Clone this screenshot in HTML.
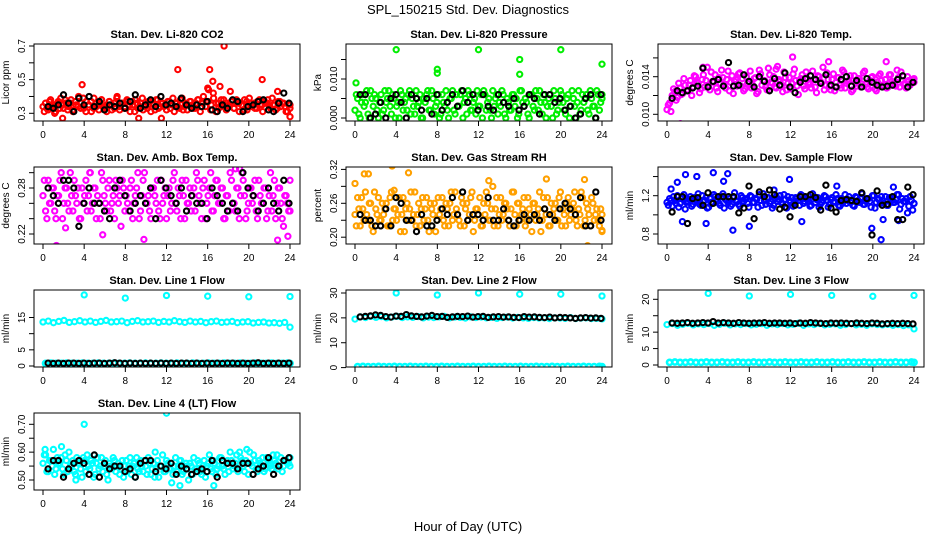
<!DOCTYPE html>
<html><head><meta charset="utf-8"><style>
html,body{margin:0;padding:0;background:#fff;}
svg{display:block;font-family:"Liberation Sans",Helvetica,Arial,sans-serif;}
</style></head><body>
<svg id="chart" width="936" height="540" viewBox="0 0 936 540">
<text x="468" y="14" text-anchor="middle" font-size="13">SPL_150215  Std. Dev. Diagnostics</text>
<text x="468" y="531" text-anchor="middle" font-size="13">Hour of Day (UTC)</text>
</svg>
<script>
// ---- data arrays (hourly position from array index across 0-24 unless hours given) ----
const hourTicks = [0,4,8,12,16,20,24];

const co2Main = [0.34,0.36,0.32,0.38,0.35,0.31,0.37,0.39,0.33,0.36,0.34,0.38,0.32,0.35,0.40,0.36,0.33,0.37,0.35,0.31,0.39,0.34,0.36,0.38,0.33,0.35,0.37,0.32,0.36,0.39,0.34,0.36,0.33,0.38,0.35,0.37,0.31,0.36,0.34,0.39,0.35,0.33,0.37,0.36,0.32,0.38,0.34,0.36,0.35,0.37,0.33,0.39,0.36,0.34,0.38,0.32,0.36,0.35,0.37,0.33,0.36,0.38,0.34,0.40,0.37,0.44,0.35,0.39,0.36,0.33,0.38,0.35,0.36,0.34,0.37,0.33,0.38,0.36,0.35,0.32,0.37,0.39,0.34,0.36,0.33,0.38,0.35,0.37,0.36,0.34,0.39,0.35,0.33,0.37,0.36,0.34,0.31,0.35];
const co2Main2 = [0.31,0.33,0.37,0.34,0.30,0.36,0.33,0.35,0.38,0.32,0.36,0.31,0.37,0.34,0.33,0.39,0.31,0.35,0.37,0.33,0.36,0.32,0.38,0.34,0.31,0.37,0.35,0.33,0.40,0.32,0.36,0.34,0.37,0.31,0.35,0.38,0.33,0.36,0.32,0.34,0.37,0.31,0.35,0.38,0.33,0.36,0.34,0.32,0.37,0.35,0.31,0.36,0.33,0.39,0.34,0.32,0.37,0.35,0.33,0.38,0.31,0.36,0.34,0.37,0.32,0.42,0.31,0.36,0.34,0.38,0.32,0.35,0.37,0.33,0.36,0.31,0.35,0.38,0.32,0.36,0.34,0.33,0.37,0.35,0.31,0.36,0.38,0.33,0.35,0.32,0.37,0.34,0.36,0.31,0.35,0.33];
const co2OutHours = [3.8,13.1,16.2,17.6,21.3,16.5,17.2,16.0,1.9,9.3,11.5,24.0,22.8,18.2];
const co2OutVals = [0.47,0.56,0.56,0.70,0.50,0.49,0.46,0.45,0.27,0.27,0.27,0.28,0.43,0.43];
const co2Ref = [0.34,0.33,0.35,0.41,0.36,0.31,0.39,0.35,0.40,0.34,0.37,0.32,0.35,0.34,0.36,0.33,0.37,0.41,0.33,0.35,0.38,0.34,0.40,0.35,0.36,0.34,0.39,0.35,0.33,0.35,0.34,0.37,0.32,0.31,0.35,0.33,0.38,0.37,0.31,0.34,0.35,0.37,0.38,0.32,0.31,0.36,0.42,0.36];

const presMain = [0.002,0.005,0.000,0.006,0.004,0.001,0.007,0.003,0.005,0.000,0.006,0.002,0.004,0.007,0.001,0.005,0.003,0.000,0.006,0.004,0.002,0.007,0.005,0.001,0.003,0.006,0.000,0.004,0.007,0.002,0.005,0.003,0.006,0.001,0.004,0.007,0.000,0.005,0.002,0.006,0.003,0.007,0.004,0.001,0.006,0.002,0.005,0.007,0.003,0.000,0.006,0.004,0.002,0.007,0.005,0.001,0.003,0.006,0.000,0.004,0.002,0.006,0.005,0.001,0.007,0.003,0.004,0.000,0.006,0.002,0.005,0.007,0.001,0.004,0.003,0.006,0.000,0.005,0.002,0.007,0.004,0.001,0.006,0.003,0.005,0.000,0.007,0.002,0.004,0.006,0.001,0.005,0.003,0.007,0.002,0.006];
const presMain2 = [0.006,0.001,0.004,0.003,0.007,0.000,0.005,0.006,0.002,0.004,0.001,0.007,0.005,0.003,0.006,0.000,0.004,0.007,0.002,0.005,0.006,0.001,0.003,0.007,0.004,0.000,0.005,0.006,0.002,0.007,0.001,0.004,0.000,0.006,0.003,0.002,0.005,0.007,0.001,0.003,0.006,0.000,0.005,0.007,0.002,0.004,0.001,0.003,0.006,0.007,0.002,0.005,0.000,0.003,0.006,0.004,0.007,0.001,0.005,0.002,0.006,0.003,0.000,0.007,0.004,0.005,0.001,0.006,0.003,0.007,0.002,0.004,0.006,0.000,0.005,0.003,0.007,0.001,0.004,0.006,0.002,0.005,0.000,0.007,0.003,0.004,0.001,0.006,0.005,0.002,0.007,0.003,0.000,0.006,0.004,0.005];
const presOutHours = [4.0,12.0,20.0,16.0,8.0,8.0,16.0,24.0,0.1];
const presOutVals = [0.0175,0.0175,0.0175,0.0150,0.0125,0.0115,0.0112,0.0138,0.0090];
const presRef = [0.006,0.006,0.000,0.001,0.004,0.000,0.005,0.006,0.004,0.000,0.006,0.005,0.002,0.005,0.001,0.006,0.002,0.004,0.006,0.003,0.007,0.004,0.006,0.002,0.006,0.003,0.002,0.006,0.004,0.003,0.005,0.002,0.003,0.006,0.005,0.001,0.006,0.006,0.004,0.005,0.002,0.003,0.000,0.001,0.005,0.006,0.000,0.006];

const tempMain = [0.0105,0.0112,0.0120,0.0124,0.0118,0.0128,0.0122,0.0131,0.0126,0.0136,0.0129,0.0140,0.0133,0.0127,0.0142,0.0136,0.0130,0.0145,0.0134,0.0128,0.0139,0.0147,0.0132,0.0137,0.0125,0.0141,0.0135,0.0130,0.0144,0.0138,0.0127,0.0133,0.0146,0.0131,0.0139,0.0124,0.0143,0.0136,0.0129,0.0149,0.0134,0.0140,0.0128,0.0137,0.0131,0.0145,0.0126,0.0139,0.0133,0.0148,0.0130,0.0136,0.0142,0.0127,0.0138,0.0132,0.0146,0.0129,0.0141,0.0135,0.0150,0.0131,0.0137,0.0126,0.0143,0.0134,0.0139,0.0128,0.0145,0.0133,0.0136,0.0124,0.0141,0.0130,0.0138,0.0132,0.0146,0.0129,0.0136,0.0140,0.0127,0.0134,0.0143,0.0131,0.0137,0.0129,0.0142,0.0133,0.0130,0.0139,0.0145,0.0132,0.0128,0.0136,0.0134,0.0138];
const tempMain2 = [0.0110,0.0103,0.0127,0.0115,0.0133,0.0121,0.0138,0.0125,0.0131,0.0120,0.0141,0.0134,0.0123,0.0137,0.0129,0.0150,0.0126,0.0135,0.0142,0.0124,0.0133,0.0139,0.0128,0.0146,0.0134,0.0122,0.0137,0.0143,0.0130,0.0125,0.0140,0.0135,0.0128,0.0138,0.0122,0.0147,0.0131,0.0136,0.0126,0.0142,0.0133,0.0129,0.0151,0.0135,0.0124,0.0139,0.0133,0.0127,0.0143,0.0136,0.0121,0.0138,0.0130,0.0145,0.0134,0.0128,0.0137,0.0123,0.0140,0.0133,0.0126,0.0144,0.0130,0.0137,0.0125,0.0139,0.0131,0.0147,0.0128,0.0135,0.0141,0.0126,0.0133,0.0138,0.0129,0.0144,0.0132,0.0127,0.0139,0.0134,0.0125,0.0141,0.0136,0.0130,0.0128,0.0142,0.0135,0.0131,0.0147,0.0129,0.0136,0.0133,0.0140,0.0131,0.0137,0.0134];
const tempOutHours = [1.3,12.2,15.7,21.3,3.5,10.6];
const tempOutVals = [0.0090,0.0161,0.0156,0.0156,0.0150,0.0148];
const tempRef = [0.0117,0.0125,0.0123,0.0125,0.0128,0.0130,0.0149,0.0129,0.0135,0.0137,0.0130,0.0155,0.0130,0.0131,0.0142,0.0135,0.0129,0.0140,0.0135,0.0125,0.0138,0.0131,0.0144,0.0129,0.0123,0.0134,0.0138,0.0141,0.0137,0.0133,0.0142,0.0131,0.0129,0.0137,0.0140,0.0130,0.0136,0.0129,0.0138,0.0134,0.0131,0.0129,0.0130,0.0131,0.0137,0.0141,0.0129,0.0134];

const ambMain = [0.27,0.25,0.29,0.26,0.28,0.24,0.27,0.30,0.26,0.28,0.25,0.27,0.29,0.26,0.24,0.28,0.27,0.25,0.30,0.26,0.28,0.27,0.24,0.29,0.26,0.28,0.25,0.27,0.29,0.26,0.23,0.28,0.27,0.25,0.29,0.26,0.28,0.24,0.27,0.30,0.26,0.25,0.28,0.27,0.29,0.24,0.26,0.28,0.27,0.25,0.29,0.26,0.28,0.24,0.27,0.29,0.26,0.25,0.28,0.30,0.27,0.24,0.29,0.26,0.28,0.25,0.27,0.29,0.26,0.28,0.24,0.27,0.30,0.26,0.25,0.28,0.27,0.29,0.24,0.26,0.28,0.27,0.25,0.29,0.26,0.28,0.24,0.27,0.25,0.29,0.26,0.28,0.24,0.27,0.26,0.25];
const ambMain2 = [0.29,0.24,0.26,0.28,0.25,0.27,0.29,0.24,0.28,0.26,0.30,0.25,0.27,0.28,0.24,0.26,0.29,0.27,0.25,0.28,0.24,0.26,0.30,0.27,0.25,0.29,0.26,0.24,0.28,0.27,0.29,0.25,0.26,0.28,0.24,0.27,0.30,0.25,0.29,0.26,0.27,0.24,0.28,0.26,0.25,0.29,0.27,0.24,0.28,0.26,0.30,0.25,0.27,0.29,0.24,0.26,0.28,0.27,0.25,0.29,0.26,0.28,0.24,0.27,0.30,0.25,0.29,0.26,0.28,0.24,0.27,0.25,0.29,0.26,0.28,0.24,0.30,0.27,0.25,0.28,0.26,0.29,0.24,0.27,0.26,0.28,0.25,0.30,0.27,0.24,0.28,0.26,0.23,0.27,0.25,0.29];
const ambOutHours = [1.3,9.8,22.8,23.8,5.8,2.2,18.7,19.1,4.6];
const ambOutVals = [0.205,0.213,0.212,0.217,0.219,0.228,0.305,0.305,0.300];
const ambRef = [0.28,0.27,0.26,0.29,0.29,0.28,0.23,0.26,0.28,0.26,0.26,0.25,0.24,0.28,0.29,0.27,0.25,0.26,0.27,0.26,0.28,0.24,0.29,0.28,0.27,0.26,0.28,0.25,0.27,0.26,0.26,0.24,0.28,0.27,0.26,0.25,0.26,0.25,0.30,0.28,0.27,0.25,0.26,0.28,0.26,0.25,0.29,0.26];

const rhMain = [0.24,0.27,0.22,0.25,0.28,0.23,0.26,0.21,0.25,0.27,0.23,0.24,0.26,0.22,0.28,0.25,0.23,0.27,0.24,0.21,0.26,0.25,0.23,0.28,0.24,0.22,0.27,0.25,0.23,0.26,0.24,0.21,0.27,0.25,0.23,0.26,0.22,0.28,0.24,0.25,0.23,0.27,0.22,0.26,0.24,0.28,0.23,0.25,0.27,0.22,0.24,0.26,0.23,0.29,0.25,0.22,0.27,0.24,0.26,0.23,0.25,0.28,0.22,0.26,0.24,0.27,0.23,0.25,0.21,0.26,0.24,0.28,0.23,0.25,0.27,0.22,0.24,0.26,0.23,0.28,0.25,0.22,0.27,0.24,0.26,0.23,0.25,0.28,0.22,0.26,0.24,0.27,0.23,0.25,0.22,0.24];
const rhMain2 = [0.22,0.25,0.27,0.23,0.24,0.26,0.22,0.28,0.24,0.23,0.26,0.25,0.22,0.27,0.23,0.25,0.24,0.21,0.27,0.25,0.23,0.28,0.24,0.22,0.26,0.25,0.23,0.27,0.21,0.25,0.26,0.23,0.24,0.27,0.22,0.25,0.26,0.23,0.28,0.24,0.22,0.26,0.25,0.23,0.27,0.21,0.25,0.24,0.22,0.26,0.28,0.23,0.25,0.22,0.27,0.24,0.23,0.26,0.25,0.22,0.28,0.24,0.26,0.23,0.25,0.22,0.27,0.24,0.26,0.23,0.25,0.21,0.27,0.24,0.22,0.26,0.25,0.23,0.27,0.22,0.24,0.26,0.23,0.25,0.28,0.22,0.24,0.27,0.23,0.25,0.22,0.26,0.24,0.23,0.25,0.21];
const rhOutHours = [0.0,0.9,1.3,3.6,5.2,22.6,3.8,13.0,18.6,22.3,24.0];
const rhOutVals = [0.295,0.312,0.312,0.326,0.314,0.185,0.283,0.300,0.303,0.302,0.212];
const rhRef = [0.24,0.23,0.23,0.22,0.22,0.25,0.22,0.27,0.26,0.23,0.23,0.21,0.24,0.22,0.22,0.23,0.25,0.24,0.27,0.24,0.28,0.23,0.24,0.24,0.23,0.27,0.23,0.23,0.25,0.23,0.22,0.23,0.24,0.23,0.24,0.23,0.25,0.24,0.23,0.25,0.26,0.25,0.24,0.27,0.22,0.22,0.28,0.23];

const flowMain = [1.13,1.17,1.09,1.15,1.20,1.12,1.18,1.06,1.14,1.19,1.11,1.16,1.22,1.10,1.15,1.18,1.08,1.13,1.21,1.16,1.12,1.19,1.07,1.15,1.17,1.11,1.23,1.14,1.09,1.18,1.16,1.12,1.20,1.13,1.17,1.08,1.15,1.22,1.11,1.18,1.14,1.10,1.19,1.16,1.13,1.21,1.07,1.15,1.18,1.12,1.17,1.10,1.20,1.14,1.16,1.09,1.22,1.13,1.18,1.11,1.15,1.19,1.08,1.16,1.13,1.21,1.10,1.17,1.14,1.12,1.19,1.15,1.09,1.18,1.13,1.22,1.11,1.16,1.14,1.20,1.07,1.17,1.12,1.15,1.19,1.10,1.18,1.13,1.16,1.21,1.11,1.14,1.17,1.09,1.15,1.12];
const flowMain2 = [1.10,1.15,1.19,1.12,1.08,1.17,1.21,1.13,1.16,1.09,1.18,1.14,1.11,1.20,1.15,1.07,1.17,1.12,1.19,1.14,1.10,1.22,1.16,1.13,1.09,1.18,1.15,1.11,1.20,1.14,1.17,1.08,1.19,1.13,1.16,1.21,1.10,1.15,1.18,1.12,1.07,1.17,1.14,1.20,1.11,1.16,1.19,1.13,1.09,1.18,1.15,1.21,1.12,1.17,1.14,1.10,1.19,1.16,1.08,1.13,1.20,1.15,1.11,1.18,1.14,1.17,1.09,1.12,1.21,1.16,1.13,1.10,1.19,1.15,1.18,1.11,1.14,1.17,1.08,1.20,1.13,1.16,1.19,1.12,1.10,1.18,1.15,1.13,1.21,1.06,1.17,1.14,1.02,1.19,1.05,1.12];
const flowOutHours = [0.4,1.0,1.8,2.9,4.5,5.5,5.9,6.4,11.9,1.5,3.8,8.0,10.4,13.1,16.5,19.9,20.8,21.0,22.0,22.5];
const flowOutVals = [1.27,1.34,1.42,1.40,1.44,1.35,1.43,0.84,1.37,0.93,0.91,0.88,1.26,0.93,1.30,0.86,0.74,0.95,1.29,0.94];
const flowRef = [1.03,1.19,1.19,0.91,1.17,1.18,1.10,1.23,1.12,1.19,1.19,1.19,1.19,1.02,1.07,1.30,0.96,1.24,1.19,1.26,1.21,1.06,1.08,0.98,1.10,1.19,1.19,1.21,1.18,1.05,1.31,1.07,1.03,1.15,1.16,1.15,1.14,1.23,1.17,0.79,1.25,1.10,1.11,1.19,0.95,0.95,1.29,1.21];

const l1Main = [13.6,13.9,13.4,13.8,14.1,13.5,13.7,14.0,13.6,13.9,13.5,13.8,14.1,13.6,13.7,13.9,13.4,13.8,14.0,13.6,13.7,13.9,13.5,13.8,13.6,14.0,13.7,13.5,13.9,13.6,13.8,13.4,13.7,13.9,13.5,13.6,13.8,13.4,13.6,13.7,13.3,13.5,13.6,13.3,13.4,13.2,13.5,12.0];
const l1Low = [0.8,0.9,0.8,0.8,0.9,0.8,0.8,0.9,0.8,0.8,0.9,0.8,0.8,0.9,0.8,0.8,0.9,0.8,0.8,0.9,0.8,0.8,0.9,0.8,0.8,0.9,0.8,0.8,0.9,0.8,0.8,0.9,0.8,0.8,0.9,0.8,0.8,0.9,0.8,0.8,0.9,0.8,0.8,0.9,0.8,0.8,0.9,0.8];
const l1OutHours = [4.0,8.0,12.0,16.0,20.0,24.0];
const l1OutVals = [22.0,21.0,21.8,21.6,21.4,21.5];
const l1Ref = [0.9,0.8,0.9,0.8,0.9,0.9,0.8,0.9,0.8,0.9,0.9,0.8,0.9,1.0,0.9,0.8,0.9,0.8,0.9,0.8,0.9,0.8,0.9,0.8,0.9,0.8,0.9,0.9,0.8,0.9,0.8,0.9,0.8,0.9,0.8,0.9,0.9,0.8,0.9,0.8,0.9,1.0,0.8,0.9,0.8,0.9,0.8,0.9];

const l2Main = [19.5,20.4,20.1,20.6,20.2,20.5,20.0,20.3,20.6,20.1,20.4,20.2,20.5,20.0,20.3,20.1,20.4,20.6,20.0,20.3,20.2,19.9,20.4,20.1,20.3,20.0,20.2,19.8,20.1,20.3,19.9,20.2,20.0,19.8,20.1,19.9,20.0,19.7,20.0,19.9,19.8,20.1,19.7,19.9,20.0,19.7,19.8,19.6];
const l2Low = [0.4,0.5,0.4,0.4,0.5,0.4,0.4,0.5,0.4,0.4,0.5,0.4,0.4,0.5,0.4,0.4,0.5,0.4,0.4,0.5,0.4,0.4,0.5,0.4,0.4,0.5,0.4,0.4,0.5,0.4,0.4,0.5,0.4,0.4,0.5,0.4,0.4,0.5,0.4,0.4,0.5,0.4,0.4,0.5,0.4,0.4,0.5,0.4];
const l2OutHours = [4.0,8.0,12.0,16.0,20.0,24.0];
const l2OutVals = [30.0,29.2,30.0,29.5,29.5,28.8];
const l2Ref = [20.4,20.6,20.8,21.2,21.0,20.5,20.3,20.7,20.6,21.3,20.8,20.6,20.4,20.7,21.0,20.5,20.6,20.2,20.4,20.6,20.5,20.7,20.3,20.5,20.6,20.2,20.4,20.5,20.3,20.4,20.2,20.1,20.5,20.3,20.4,20.2,20.1,20.3,20.0,20.2,20.1,20.0,19.8,20.0,20.1,19.9,20.0,19.8];

const l3Main = [12.3,12.6,12.1,12.4,12.7,12.2,12.5,12.3,12.6,12.1,12.4,12.7,12.2,12.5,12.3,12.6,12.2,12.4,12.6,12.1,12.5,12.3,12.6,12.2,12.4,12.7,12.1,12.5,12.3,12.6,12.2,12.4,12.5,12.1,12.3,12.6,12.2,12.4,12.1,12.5,12.3,12.2,12.4,12.1,12.3,12.0,12.2,11.0];
const l3Low = [0.8,0.9,0.8,0.8,0.9,0.8,0.8,0.9,0.8,0.8,0.9,0.8,0.8,0.9,0.8,0.8,0.9,0.8,0.8,0.9,0.8,0.8,0.9,0.8,0.8,0.9,0.8,0.8,0.9,0.8,0.8,0.9,0.8,0.8,0.9,0.8,0.8,0.9,0.8,0.8,0.9,0.8,0.8,0.9,0.8,0.8,0.9,0.8];
const l3OutHours = [4.0,8.0,12.0,16.0,20.0,24.0];
const l3OutVals = [21.8,21.0,21.5,21.2,20.9,21.2];
const l3Ref = [12.8,12.7,12.8,12.9,12.7,12.8,12.9,12.8,13.2,12.8,12.9,12.8,12.7,12.9,12.8,12.7,12.8,12.8,12.9,12.7,12.8,12.8,12.7,12.8,12.6,12.8,12.7,12.9,12.8,12.7,12.6,12.8,12.7,12.8,12.7,12.6,12.8,12.7,12.6,12.8,12.7,12.5,12.6,12.7,12.6,12.7,12.6,12.5];

const l4Main = [0.56,0.59,0.53,0.57,0.61,0.54,0.56,0.58,0.52,0.57,0.60,0.55,0.53,0.58,0.56,0.51,0.57,0.59,0.54,0.56,0.52,0.58,0.55,0.53,0.57,0.50,0.55,0.58,0.53,0.56,0.54,0.51,0.57,0.55,0.52,0.56,0.58,0.53,0.55,0.57,0.52,0.56,0.54,0.51,0.57,0.55,0.59,0.53,0.56,0.54,0.52,0.58,0.55,0.57,0.53,0.56,0.50,0.55,0.58,0.54,0.56,0.52,0.57,0.55,0.59,0.53,0.56,0.54,0.58,0.55,0.52,0.57,0.60,0.54,0.56,0.53,0.58,0.55,0.57,0.52,0.56,0.59,0.54,0.57,0.55,0.53,0.58,0.56,0.54,0.57,0.59,0.55,0.53,0.57,0.56,0.58];
const l4Main2 = [0.59,0.53,0.57,0.55,0.52,0.58,0.56,0.54,0.59,0.53,0.55,0.57,0.52,0.56,0.54,0.58,0.53,0.55,0.57,0.51,0.56,0.54,0.58,0.55,0.52,0.56,0.54,0.57,0.55,0.52,0.57,0.55,0.53,0.58,0.55,0.51,0.54,0.57,0.53,0.55,0.58,0.52,0.56,0.54,0.51,0.55,0.53,0.57,0.54,0.49,0.55,0.53,0.57,0.52,0.55,0.54,0.56,0.52,0.54,0.57,0.53,0.55,0.51,0.56,0.54,0.57,0.52,0.55,0.58,0.54,0.56,0.53,0.57,0.55,0.59,0.54,0.57,0.53,0.56,0.60,0.55,0.57,0.53,0.56,0.58,0.54,0.57,0.55,0.59,0.56,0.54,0.58,0.55,0.57,0.56,0.55];
const l4OutHours = [4.0,12.0,1.8,10.9,19.1,19.8,0.2,3.2,16.6,13.3];
const l4OutVals = [0.70,0.74,0.62,0.60,0.60,0.61,0.61,0.50,0.48,0.48];
const l4Ref = [0.54,0.57,0.57,0.51,0.54,0.56,0.57,0.56,0.52,0.59,0.51,0.56,0.54,0.55,0.55,0.53,0.54,0.51,0.56,0.57,0.57,0.53,0.55,0.54,0.56,0.52,0.55,0.54,0.52,0.53,0.54,0.53,0.57,0.51,0.57,0.56,0.56,0.54,0.56,0.56,0.52,0.54,0.55,0.58,0.52,0.55,0.57,0.58];

// ---- rendering ----
const NS = "http://www.w3.org/2000/svg";
const svg = document.getElementById("chart");
function el(tag, attrs, parent){ const e=document.createElementNS(NS,tag); for(const k in attrs) e.setAttribute(k,attrs[k]); (parent||svg).appendChild(e); return e; }

const panels = [
 {id:"co2",c:0,r:0,title:"Stan. Dev. Li-820 CO2",ylab:"Licor ppm",ticks:[0.3,0.4,0.5,0.6,0.7],labels:["0.3","","0.5","","0.7"],cal:[0.3,113.3,0.7,46],
  col:"#ff0000",main:[co2Main,co2Main2],oh:co2OutHours,ov:co2OutVals,ref:co2Ref},
 {id:"pressure",c:1,r:0,title:"Stan. Dev. Li-820 Pressure",ylab:"kPa",ticks:[0,0.005,0.010,0.015],labels:["0.000","","0.010",""],cal:[0,118,0.010,79],
  col:"#00ee00",main:[presMain,presMain2],oh:presOutHours,ov:presOutVals,ref:presRef},
 {id:"temp",c:2,r:0,title:"Stan. Dev. Li-820 Temp.",ylab:"degrees C",ticks:[0.010,0.012,0.014,0.016],labels:["0.010","","0.014",""],cal:[0.010,114.3,0.014,76.7],
  col:"#ff00ff",main:[tempMain,tempMain2],oh:tempOutHours,ov:tempOutVals,ref:tempRef},
 {id:"ambient",c:0,r:1,title:"Stan. Dev. Amb. Box Temp.",ylab:"degrees C",ticks:[0.22,0.24,0.26,0.28,0.30],labels:["0.22","","","0.28",""],cal:[0.22,234,0.28,188],
  col:"#ff00ff",main:[ambMain,ambMain2],oh:ambOutHours,ov:ambOutVals,ref:ambRef},
 {id:"rh",c:1,r:1,title:"Stan. Dev. Gas Stream RH",ylab:"percent",ticks:[0.20,0.23,0.26,0.29,0.32],labels:["0.20","","0.26","","0.32"],cal:[0.20,237.2,0.32,169.4],
  col:"#ffa000",main:[rhMain,rhMain2],oh:rhOutHours,ov:rhOutVals,ref:rhRef},
 {id:"sample-flow",c:2,r:1,title:"Stan. Dev. Sample Flow",ylab:"ml/min",ticks:[0.8,1.0,1.2,1.4],labels:["0.8","","1.2",""],cal:[0.8,234,1.2,195.7],
  col:"#0000ff",main:[flowMain,flowMain2],oh:flowOutHours,ov:flowOutVals,ref:flowRef},
 {id:"line1",c:0,r:2,title:"Stan. Dev. Line 1 Flow",ylab:"ml/min",ticks:[0,5,10,15],labels:["0","5","","15"],cal:[0,366,15,317.5],
  col:"#00ffff",main:[l1Main,l1Low],oh:l1OutHours,ov:l1OutVals,ref:l1Ref,thick:true},
 {id:"line2",c:1,r:2,title:"Stan. Dev. Line 2 Flow",ylab:"ml/min",ticks:[0,10,20,30],labels:["0","10","20","30"],cal:[0,367.6,30,293],
  col:"#00ffff",main:[l2Main,l2Low],oh:l2OutHours,ov:l2OutVals,ref:l2Ref,thick:true},
 {id:"line3",c:2,r:2,title:"Stan. Dev. Line 3 Flow",ylab:"ml/min",ticks:[0,5,10,15,20],labels:["0","5","10","","20"],cal:[0,365,20,299.3],
  col:"#00ffff",main:[l3Main,l3Low],oh:l3OutHours,ov:l3OutVals,ref:l3Ref,thick:true},
 {id:"line4",c:0,r:3,title:"Stan. Dev. Line 4 (LT) Flow",ylab:"ml/min",ticks:[0.50,0.55,0.60,0.65,0.70],labels:["0.50","","0.60","","0.70"],cal:[0.50,480,0.70,424.3],
  col:"#00ffff",main:[l4Main,l4Main2],oh:l4OutHours,ov:l4OutVals,ref:l4Ref}
];

panels.forEach(p=>{
  const ox = 312*p.c, oy = 123*p.r;
  const L=34+ox, R=300+ox, T=44+oy, B=121+oy;
  const xs = h => 43+ox + h*247/24;
  const ys = v => p.cal[1] + (v-p.cal[0])*(p.cal[3]-p.cal[1])/(p.cal[2]-p.cal[0]);
  const g = el("g",{});
  
  
  const clip = el("clipPath",{id:"clip-"+p.id},g);
  el("rect",{x:L,y:T,width:R-L,height:B-T},clip);
  const t = el("text",{x:(L+R)/2,y:T-6,"text-anchor":"middle","font-size":"11","font-weight":"bold"},g);
  t.textContent = p.title;
  
  
  const yl = el("text",{x:0,y:0,"text-anchor":"middle","font-size":"10",transform:`translate(${L-25},${(T+B)/2}) rotate(-90)`},g);
  yl.textContent = p.ylab;
  
  
  const pts = el("g",{"clip-path":"url(#clip-"+p.id+")",fill:"none","stroke-width":"2.1"},g);
  
  
  p.main.forEach((arr,k)=>{
    const n = arr.length;
    arr.forEach((v,i)=>{
      const h = k===0 ? i*24/(n-1) : Math.min(24,(i+0.5)*24/(n-1));
      const c = el("circle",{cx:xs(h).toFixed(1),cy:ys(v).toFixed(1),r:2.6,stroke:p.col},pts);
      if(p.thick && k===1) c.setAttribute('stroke-width','2.6');
      
      
    });
  });
  p.oh.forEach((h,i)=>{
    const c = el("circle",{cx:xs(h).toFixed(1),cy:ys(p.ov[i]).toFixed(1),r:2.6,stroke:p.col},pts);
    
    
  });
  p.ref.forEach((v,i)=>{
    const c = el("circle",{cx:xs(0.5+i*23.4/(p.ref.length-1)).toFixed(1),cy:ys(v).toFixed(1),r:2.6,stroke:"#000"},pts);
    
    
  });
  const box = el("rect",{x:L,y:T,width:R-L,height:B-T,fill:"none",stroke:"#000","stroke-width":"1"},g);
  
  
  hourTicks.forEach(h=>{
    el("line",{x1:xs(h),x2:xs(h),y1:B,y2:B+5,stroke:"#000"},g);
    const tl = el("text",{x:xs(h),y:B+17,"text-anchor":"middle","font-size":"10"},g);
    tl.textContent = h;
    
    
  });
  p.ticks.forEach((v,i)=>{
    el("line",{x1:L-5,x2:L,y1:ys(v),y2:ys(v),stroke:"#000"},g);
    if(p.labels[i]){
      const tl = el("text",{x:0,y:0,"text-anchor":"middle","font-size":"10",transform:`translate(${L-9},${ys(v)}) rotate(-90)`},g);
      tl.textContent = p.labels[i];
      
      
    }
  });
});
</script>
</body></html>
